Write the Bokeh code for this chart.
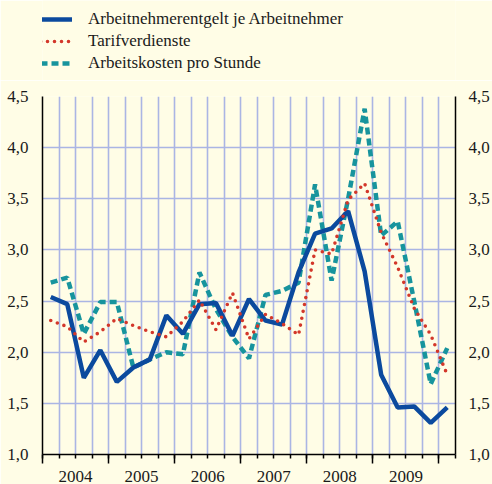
from bokeh.plotting import figure
from bokeh.layouts import column
from bokeh.models import (LinearAxis, FixedTicker, Range1d, Legend, LegendItem,
                          Grid, CustomJSTickFormatter, ColumnDataSource)
from bokeh.embed import file_html
from bokeh.resources import INLINE

# ---- data -------------------------------------------------------------
quarters = ["2004Q1", "2004Q2", "2004Q3", "2004Q4",
            "2005Q1", "2005Q2", "2005Q3", "2005Q4",
            "2006Q1", "2006Q2", "2006Q3", "2006Q4",
            "2007Q1", "2007Q2", "2007Q3", "2007Q4",
            "2008Q1", "2008Q2", "2008Q3", "2008Q4",
            "2009Q1", "2009Q2", "2009Q3", "2009Q4",
            "2010Q1"]

arbeitnehmerentgelt = [2.54, 2.47, 1.75, 2.02, 1.71, 1.85, 1.93, 2.36, 2.18, 2.47,
                       2.48, 2.16, 2.52, 2.31, 2.27, 2.78, 3.16, 3.21, 3.38, 2.79,
                       1.78, 1.46, 1.47, 1.31, 1.46]
tarifverdienste = [2.31, 2.25, 2.10, 2.20, 2.33, 2.26, 2.20, 2.15, 2.30, 2.51,
                   2.22, 2.58, 2.13, 2.37, 2.28, 2.17, 3.00, 2.96, 3.49, 3.65,
                   3.17, 2.83, 2.43, 2.17, 1.78]
arbeitskosten = [2.68, 2.73, 2.18, 2.49, 2.49, 1.85, 1.93, 2.00, 1.98, 2.78,
                 2.42, 2.15, 1.94, 2.56, 2.60, 2.68, 3.64, 2.70, 3.50, 4.38,
                 3.14, 3.28, 2.50, 1.69, 2.04]

year_labels = ["2004", "2005", "2006", "2007", "2008", "2009"]
y_ticks = [1.0, 1.5, 2.0, 2.5, 3.0, 3.5, 4.0, 4.5]
series_names = ["Arbeitnehmerentgelt je Arbeitnehmer", "Tarifverdienste",
                "Arbeitskosten pro Stunde"]

# ---- styling ----------------------------------------------------------
BG = "#fffde6"
GRID = "#aab5e4"
BLUE = "#0b4a9e"
RED = "#d3372a"
TEAL = "#17949d"
FONT = "Liberation Serif"
TXT = "#1a1a1a"

W = 492
TOP_H = 80          # legend strip
MAIN_H = 484 - TOP_H

styles = [dict(line_color=BLUE, line_width=4.5),
          dict(line_color=RED, line_width=3.6, line_dash="0 7", line_cap="round"),
          dict(line_color=TEAL, line_width=4.5, line_dash="7 4")]

n = len(quarters)
x = [i + 0.5 for i in range(n)]
src = ColumnDataSource(dict(x=x, q=quarters, a=arbeitnehmerentgelt,
                            t=tarifverdienste, k=arbeitskosten))

# ---- main chart --------------------------------------------------------
p = figure(width=W, height=MAIN_H, output_backend="svg", toolbar_location=None,
           x_range=Range1d(0, n), y_range=Range1d(y_ticks[0], y_ticks[-1]),
           x_axis_location=None, y_axis_location=None,
           min_border_left=42, min_border_right=30, min_border_top=96 - TOP_H,
           min_border_bottom=30,
           background_fill_color=BG, border_fill_color=BG, outline_line_color=None)

p.add_layout(Grid(dimension=0, ticker=FixedTicker(ticks=list(range(n + 1))),
                  grid_line_color=GRID, grid_line_width=1.6))
p.add_layout(Grid(dimension=1, ticker=FixedTicker(ticks=y_ticks),
                  grid_line_color=GRID, grid_line_width=1.6))

fmt = CustomJSTickFormatter(code="return tick.toFixed(1).replace('.', ',');")
for side, standoff in (("left", 8), ("right", 7)):
    ax = LinearAxis(ticker=FixedTicker(ticks=y_ticks), formatter=fmt,
                    major_tick_line_color=None, minor_tick_line_color=None,
                    axis_line_color="black", axis_line_width=1.5,
                    major_label_standoff=standoff,
                    major_label_text_font=FONT, major_label_text_font_size="17px",
                    major_label_text_color=TXT)
    p.add_layout(ax, side)

# tick-only axis (year boundaries long, quarters short), labels not drawn
year_starts = [4 * i for i in range(len(year_labels) + 1)]
tick_axis = LinearAxis(ticker=FixedTicker(ticks=year_starts, minor_ticks=list(range(n + 1))),
                       major_tick_out=9, major_tick_in=0, minor_tick_out=4, minor_tick_in=0,
                       major_tick_line_width=1.5, minor_tick_line_width=1.5,
                       axis_line_width=1.5, major_label_standoff=0,
                       major_label_text_color=None,
                       major_label_text_font_size="2px")
p.add_layout(tick_axis, "below")

# label axis: year names centred in each year
mid = [4 * i + 2 for i in range(len(year_labels))]
label_axis = LinearAxis(ticker=FixedTicker(ticks=mid),
                        major_label_overrides={m: lab for m, lab in zip(mid, year_labels)},
                        axis_line_color=None, major_tick_line_color=None,
                        minor_tick_line_color=None, major_label_standoff=1,
                        major_label_text_font=FONT, major_label_text_font_size="17px",
                        major_label_text_color=TXT)
p.add_layout(label_axis, "below")

r_k = p.line("x", "k", source=src, **styles[2])
r_a = p.line("x", "a", source=src, **styles[0])
r_t = p.line("x", "t", source=src, **styles[1])

# ---- legend strip ------------------------------------------------------
lg = figure(width=W, height=TOP_H, output_backend="svg", toolbar_location=None,
            x_axis_location=None, y_axis_location=None,
            x_range=Range1d(0, 1), y_range=Range1d(0, 1),
            min_border=0, background_fill_color=BG, border_fill_color=BG,
            outline_line_color=None)
lg.xgrid.visible = False
lg.ygrid.visible = False
# one undrawable point so that the legend can draw each line sample
empty = ColumnDataSource(dict(x=[float("nan")], y=[float("nan")]))
dummies = [lg.line("x", "y", source=empty, **s) for s in styles]

legend = Legend(items=[LegendItem(label=name, renderers=[r])
                       for name, r in zip(series_names, dummies)],
                location=(-2, TOP_H - 9 - 64), orientation="vertical",
                label_text_font=FONT, label_text_font_size="17px", label_text_color=TXT,
                glyph_width=32, glyph_height=20, label_height=20, label_standoff=16,
                spacing=2, padding=0, margin=0,
                border_line_color=None, background_fill_alpha=0)
lg.add_layout(legend)

layout = column(lg, p, spacing=0)
open("out.html", "w").write(file_html(layout, INLINE))
